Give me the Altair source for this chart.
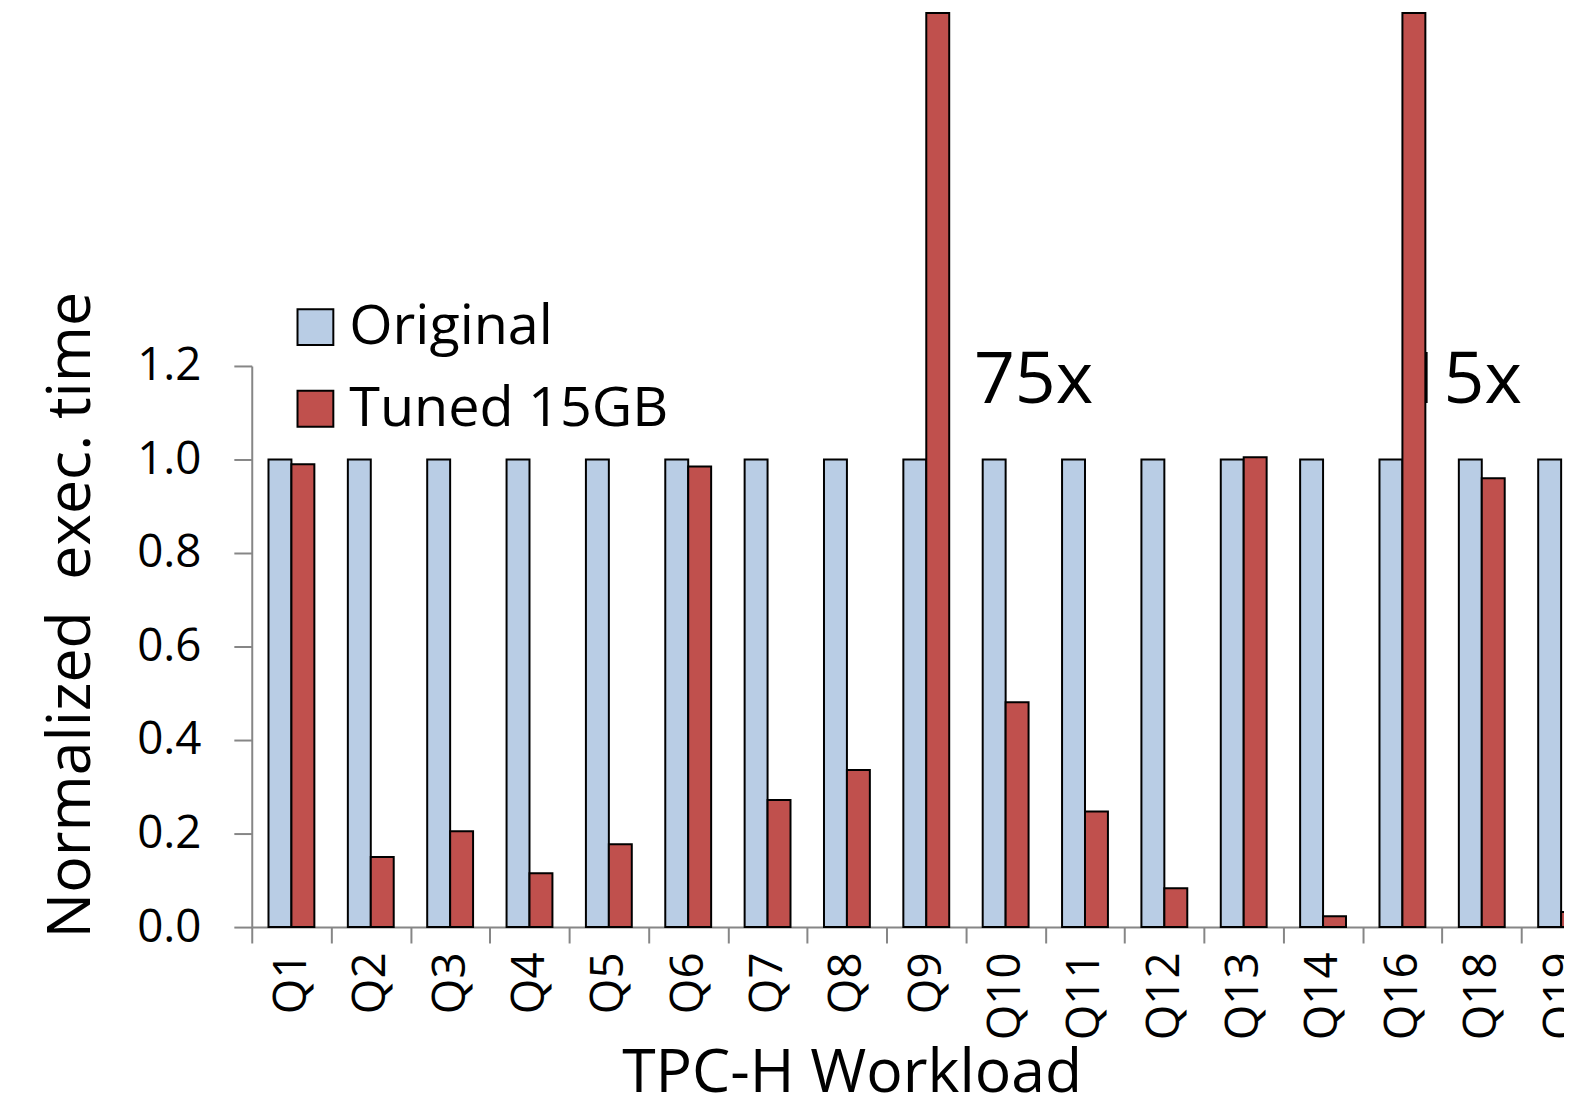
import altair as alt
import pandas as pd

queries = ["Q1", "Q2", "Q3", "Q4", "Q5", "Q6", "Q7", "Q8", "Q9", "Q10",
           "Q11", "Q12", "Q13", "Q14", "Q16", "Q18", "Q19"]
original = [1.0, 1.0, 1.0, 1.0, 1.0, 1.0, 1.0, 1.0, 1.0, 1.0,
            1.0, 1.0, 1.0, 1.0, 1.0, 1.0, 1.0]
tuned = [0.99, 0.15, 0.205, 0.115, 0.177, 0.985, 0.272, 0.336, 75.0, 0.481,
         0.247, 0.083, 1.005, 0.023, 15.0, 0.96, 0.032]
series_names = ["Original", "Tuned 15GB"]
series_colors = ["#B9CDE5", "#C0504D"]
y_ticks = [0.0, 0.2, 0.4, 0.6, 0.8, 1.0, 1.2]

CLIP_AT = 1.955  # the tall bars are cut off at the top of the figure
FONT = "Open Sans"
AXIS_GRAY = "#868686"

rows = []
for q, o, t in zip(queries, original, tuned):
    rows.append({"query": q, "series": series_names[0], "value": o})
    rows.append({"query": q, "series": series_names[1], "value": t})
df = pd.DataFrame(rows)

ann75 = pd.DataFrame({"query": ["Q10"], "label": ["75x"], "shown": [1.12]})
ann15 = pd.DataFrame({"query": ["Q16"], "label": ["15x"], "shown": [1.12]})

xscale = alt.Scale(domain=queries, paddingInner=0, paddingOuter=0)
yscale = alt.Scale(domain=[0, 1.2], nice=False, zero=True)

x_axis = alt.Axis(title="TPC-H Workload", labelAngle=-90,
                  tickBand="extent", labelPadding=9,
                  tickSize=16, titleX=603, titleY=165,
                  titleBaseline="alphabetic", titleAlign="center",
                  titleAnchor="start")
y_axis = alt.Axis(title="Normalized\u00a0 exec. time", values=y_ticks,
                  format=".1f", tickSize=18, labelPadding=33,
                  titleX=-163, titleY=250, titleAngle=270,
                  titleBaseline="alphabetic", titleAlign="center",
                  titleAnchor="start", grid=False)

bars = alt.Chart(df).transform_calculate(
    shown="min(datum.value, %f)" % CLIP_AT
).mark_bar(stroke="black", strokeWidth=2, clip=False).encode(
    x=alt.X("query:N", scale=xscale, sort=queries, axis=x_axis),
    xOffset=alt.XOffset("series:N", sort=series_names,
                        scale=alt.Scale(paddingOuter=0.73, paddingInner=0)),
    y=alt.Y("shown:Q", scale=yscale, axis=y_axis),
    color=alt.Color("series:N", sort=series_names,
                    scale=alt.Scale(domain=series_names, range=series_colors),
                    legend=alt.Legend(orient="none", legendX=36, legendY=-67,
                                      title=None, symbolType="square",
                                      symbolSize=1296, symbolStrokeColor="black",
                                      symbolStrokeWidth=2, labelFontSize=56,
                                      labelFont=FONT, labelOffset=6,
                                      labelLimit=0, labelColor="black",
                                      rowPadding=26, padding=0)),
)

txt75 = alt.Chart(ann75).mark_text(
    font=FONT, fontSize=72, align="left", baseline="alphabetic", dx=8, color="black"
).encode(
    x=alt.X("query:N", scale=xscale, sort=queries, bandPosition=0, axis=x_axis),
    y=alt.Y("shown:Q", scale=yscale, axis=y_axis),
    text="label:N",
)
txt15 = alt.Chart(ann15).mark_text(
    font=FONT, fontSize=72, align="left", baseline="alphabetic", dx=40, color="black"
).encode(
    x=alt.X("query:N", scale=xscale, sort=queries, bandPosition=0, axis=x_axis),
    y=alt.Y("shown:Q", scale=yscale, axis=y_axis),
    text="label:N",
)

chart = alt.layer(txt75, txt15, bars).properties(
    width=1356, height=564,
    autosize=alt.AutoSizeParams(type="none"),
    padding={"left": 245, "top": 357, "right": -37, "bottom": 168},
).configure_view(stroke=None).configure_axis(
    labelFont=FONT, labelFontSize=46, labelColor="black",
    titleFont=FONT, titleFontSize=61, titleColor="black",
    titleFontWeight="normal",
    domainColor=AXIS_GRAY, tickColor=AXIS_GRAY, domainWidth=2, tickWidth=2,
)

chart.save("out.html", embed_options={"renderer": "svg", "actions": False})
